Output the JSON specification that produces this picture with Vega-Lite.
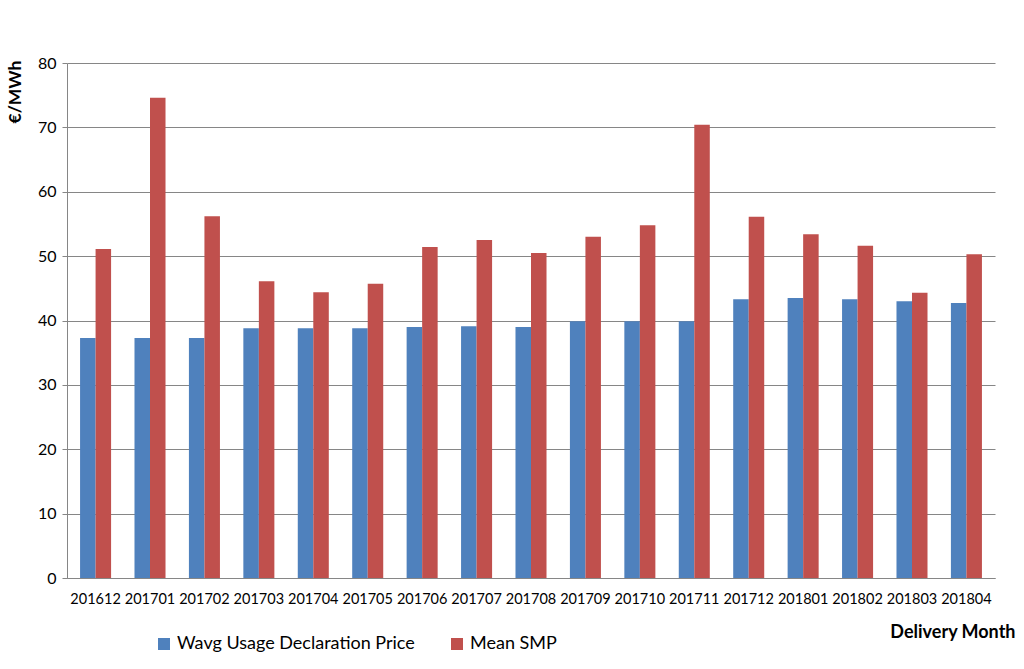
{
  "$schema": "https://vega.github.io/schema/vega-lite/v6.json",
  "width": 928,
  "height": 515,
  "autosize": {"type": "none"},
  "padding": {"left": 67, "top": 63, "right": 29, "bottom": 91},
  "background": "white",
  "data": {
    "values": [
      {"month": "201612", "series": "Wavg Usage Declaration Price", "value": 37.3},
      {"month": "201612", "series": "Mean SMP", "value": 51.1},
      {"month": "201701", "series": "Wavg Usage Declaration Price", "value": 37.3},
      {"month": "201701", "series": "Mean SMP", "value": 74.6},
      {"month": "201702", "series": "Wavg Usage Declaration Price", "value": 37.3},
      {"month": "201702", "series": "Mean SMP", "value": 56.2},
      {"month": "201703", "series": "Wavg Usage Declaration Price", "value": 38.8},
      {"month": "201703", "series": "Mean SMP", "value": 46.1},
      {"month": "201704", "series": "Wavg Usage Declaration Price", "value": 38.8},
      {"month": "201704", "series": "Mean SMP", "value": 44.4},
      {"month": "201705", "series": "Wavg Usage Declaration Price", "value": 38.8},
      {"month": "201705", "series": "Mean SMP", "value": 45.7},
      {"month": "201706", "series": "Wavg Usage Declaration Price", "value": 39.0},
      {"month": "201706", "series": "Mean SMP", "value": 51.4},
      {"month": "201707", "series": "Wavg Usage Declaration Price", "value": 39.1},
      {"month": "201707", "series": "Mean SMP", "value": 52.5},
      {"month": "201708", "series": "Wavg Usage Declaration Price", "value": 39.0},
      {"month": "201708", "series": "Mean SMP", "value": 50.5},
      {"month": "201709", "series": "Wavg Usage Declaration Price", "value": 39.9},
      {"month": "201709", "series": "Mean SMP", "value": 53.0},
      {"month": "201710", "series": "Wavg Usage Declaration Price", "value": 39.9},
      {"month": "201710", "series": "Mean SMP", "value": 54.8},
      {"month": "201711", "series": "Wavg Usage Declaration Price", "value": 39.9},
      {"month": "201711", "series": "Mean SMP", "value": 70.4},
      {"month": "201712", "series": "Wavg Usage Declaration Price", "value": 43.3},
      {"month": "201712", "series": "Mean SMP", "value": 56.1},
      {"month": "201801", "series": "Wavg Usage Declaration Price", "value": 43.5},
      {"month": "201801", "series": "Mean SMP", "value": 53.4},
      {"month": "201802", "series": "Wavg Usage Declaration Price", "value": 43.3},
      {"month": "201802", "series": "Mean SMP", "value": 51.6},
      {"month": "201803", "series": "Wavg Usage Declaration Price", "value": 43.0},
      {"month": "201803", "series": "Mean SMP", "value": 44.3},
      {"month": "201804", "series": "Wavg Usage Declaration Price", "value": 42.7},
      {"month": "201804", "series": "Mean SMP", "value": 50.3}
    ]
  },
  "mark": {"type": "bar"},
  "encoding": {
    "x": {
      "field": "month",
      "type": "nominal",
      "sort": null,
      "scale": {"paddingInner": 0.43, "paddingOuter": 0.24},
      "axis": {
        "title": "Delivery Month",
        "titleFont": "Lato",
        "titleFontSize": 18,
        "titleFontWeight": "bold",
        "titleColor": "#000000",
        "titleAnchor": "end",
        "titleAlign": "right",
        "titleBaseline": "top",
        "titleX": 948,
        "titleY": 45,
        "labelAngle": 0,
        "labelFont": "Lato",
        "labelFontSize": 14.5,
        "labelColor": "#000000",
        "labelPadding": 14,
        "ticks": false,
        "domainColor": "#868686",
        "domainWidth": 1
      }
    },
    "xOffset": {
      "field": "series",
      "type": "nominal",
      "sort": ["Wavg Usage Declaration Price", "Mean SMP"]
    },
    "y": {
      "field": "value",
      "type": "quantitative",
      "scale": {"domain": [0, 80], "nice": false},
      "axis": {
        "title": "€/MWh",
        "titleFont": "Lato",
        "titleFontSize": 17.5,
        "titleFontWeight": "bold",
        "titleColor": "#000000",
        "titleX": -43,
        "titleY": -3,
        "titleAngle": -90,
        "titleAlign": "right",
        "titleBaseline": "bottom",
        "values": [0, 10, 20, 30, 40, 50, 60, 70, 80],
        "labelFont": "Lato",
        "labelFontSize": 16,
        "labelColor": "#000000",
        "labelPadding": 6,
        "tickSize": 5,
        "tickColor": "#868686",
        "domainColor": "#868686",
        "gridColor": "#868686",
        "grid": true
      }
    },
    "color": {
      "field": "series",
      "type": "nominal",
      "scale": {
        "domain": ["Wavg Usage Declaration Price", "Mean SMP"],
        "range": ["#4F81BD", "#C0504D"]
      },
      "legend": {
        "title": null,
        "orient": "none",
        "legendX": 88,
        "legendY": 572,
        "direction": "horizontal",
        "symbolType": "square",
        "symbolSize": 144,
        "symbolStrokeWidth": 0,
        "labelFont": "Lato",
        "labelFontSize": 18,
        "labelColor": "#000000",
        "labelLimit": 400,
        "labelOffset": 4,
        "columnPadding": 33
      }
    }
  },
  "config": {
    "view": {"stroke": null},
    "axis": {"gridWidth": 1}
  }
}
